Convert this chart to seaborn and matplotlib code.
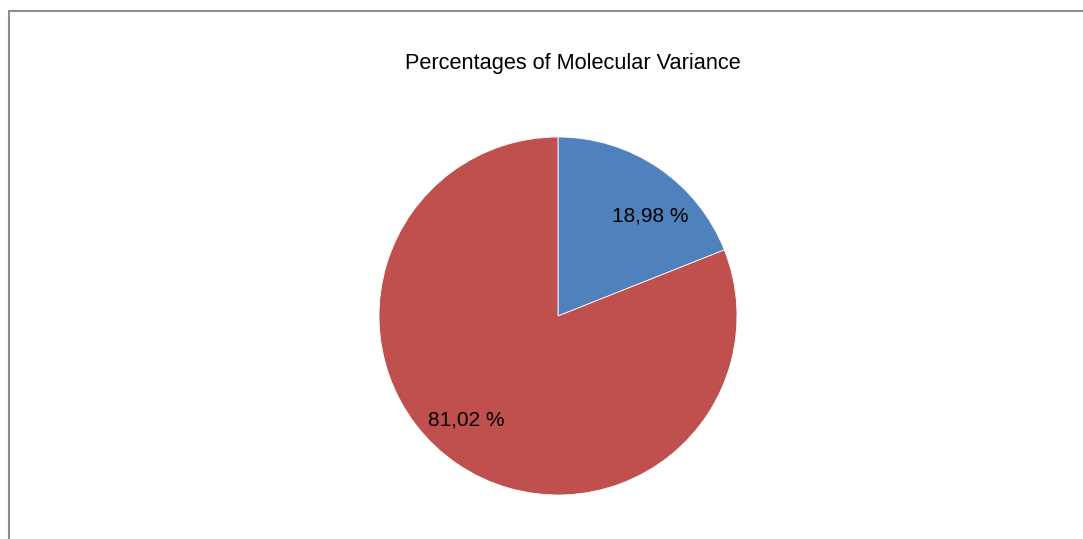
import seaborn as sns
import numpy as np
import matplotlib.pyplot as plt
from matplotlib.lines import Line2D

# data
components = ['Among Populations', 'Within Populations']
percentages = [18.98, 81.02]
pie_colors = ['#4F81BD', '#C0504D']

sns.set_style('white')
plt.rcParams['font.family'] = ['Liberation Sans', 'DejaVu Sans']

fig = plt.figure(figsize=(10.83, 5.39), dpi=100)

# chart border (cropped on right and bottom)
fig.add_artist(Line2D([8.5 / 1083, 8.5 / 1083], [0, 1 - 11 / 539], color='#8c8c8c', lw=1.5))
fig.add_artist(Line2D([8.5 / 1083, 1], [1 - 11 / 539, 1 - 11 / 539], color='#8c8c8c', lw=1.5))

# pie axes: centre (558, 316), radius 179 px
ax = fig.add_axes([(558 - 179) / 1083, 44 / 539, 358 / 1083, 358 / 539])
wedges, texts, autotexts = ax.pie(
    percentages, colors=pie_colors, startangle=90, counterclock=False,
    autopct=lambda p: f'{p:.2f} %'.replace('.', ','), pctdistance=0.77,
    wedgeprops=dict(edgecolor='white', linewidth=0.6),
    textprops=dict(fontsize=15, color='black'))
ax.set_xlim(-1, 1)
ax.set_ylim(-1, 1)
ax.set_aspect('equal')
ax.axis('off')

# Excel-like label placement
autotexts[0].set_position((0.514, 0.56))
autotexts[1].set_position((-0.514, -0.58))

fig.text(573 / 1083, 1 - 63 / 539, 'Percentages of Molecular Variance',
         ha='center', va='center', fontsize=15.7, color='black')

plt.savefig('out.png', dpi=100)
